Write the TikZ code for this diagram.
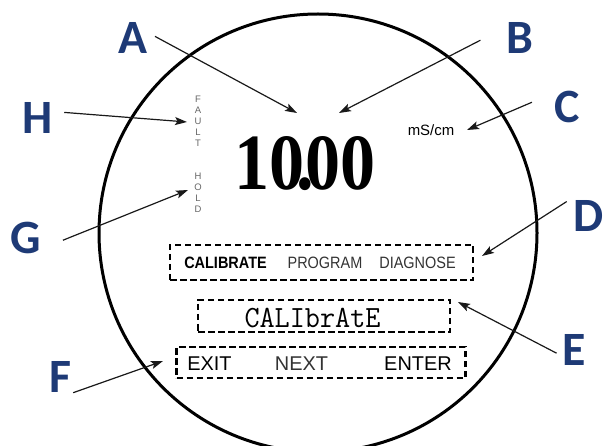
\documentclass[tikz,border=0pt]{standalone}
\usepackage{fontspec}
\usepackage{graphicx}
\usetikzlibrary{arrows.meta}
\newfontfamily\calloutfont{Carlito}
\newfontfamily\panelfont{Liberation Sans}
\newfontfamily\readingfont{Liberation Serif}
\definecolor{calloutblue}{RGB}{30,58,118}
\tikzset{
  callout/.style={font=\calloutfont\bfseries\fontsize{48}{48}\selectfont, text=calloutblue, inner sep=2bp},
  pointer/.style={-{Stealth[length=12bp,width=8bp,inset=2.5bp]}, line width=1.2bp, draw=black!90},
  lcdbox/.style={draw, dash pattern=on 6.5bp off 3.5bp, line width=2.2bp, inner sep=0pt},
  menu/.style={font=\panelfont\fontsize{16.5}{16.5}\selectfont, inner sep=0pt},
  softkey/.style={font=\panelfont\fontsize{20}{20}\selectfont, inner sep=0pt},
  flag/.style={font=\panelfont\fontsize{9.5}{11}\selectfont, text=black!60, align=center, inner sep=1bp}
}
\begin{document}
\begin{tikzpicture}[x=1bp, y=-1bp]
\useasboundingbox (0,0) rectangle (606,446);
\clip (0,0) rectangle (606,446);
\draw[line width=3bp] (318,233) circle[radius=219];
% display contents
\node[inner sep=0pt] (reading) at (305,164) {\readingfont\bfseries\fontsize{80}{80}\selectfont\scalebox{0.88}[1]{10\kern-0.12em.\kern-0.12em00}};
\node[font=\panelfont\fontsize{15}{15}\selectfont, inner sep=0pt] (unit) at (431,130) {mS/cm};
\node[flag] (fault) at (198,121) {F\\A\\U\\L\\T};
\node[flag] (hold) at (198,193) {H\\O\\L\\D};
\node[lcdbox, minimum width=303bp, minimum height=35bp] (menubox) at (321.5,262.5) {};
\node[menu, font=\panelfont\bfseries\fontsize{16.5}{16.5}\selectfont] (calib) at (225.5,263) {\scalebox{0.88}[1]{CALIBRATE}};
\node[menu, text=black!80] (prog) at (325,263) {\scalebox{0.88}[1]{PROGRAM}};
\node[menu, text=black!80] (diag) at (417.5,263) {\scalebox{0.88}[1]{DIAGNOSE}};
\node[lcdbox, minimum width=252bp, minimum height=32bp] (modebox) at (324,316) {};
\node[font=\ttfamily\fontsize{31}{31}\selectfont, inner sep=0pt] (mode) at (312.5,318) {\scalebox{0.95}[1]{CALIbrAtE}};
\node[lcdbox, minimum width=289bp, minimum height=31bp] (keybox) at (321,362.5) {};
\node[softkey] (exit) at (209.5,364) {EXIT};
\node[softkey, text=black!80] (next) at (301.5,364) {NEXT};
\node[softkey] (enter) at (418,364) {ENTER};
% callouts
\node[callout] (lA) at (133,38) {A};
\node[callout] (lB) at (520,38) {B};
\node[callout] (lC) at (567,107) {C};
\node[callout] (lD) at (589,216) {D};
\node[callout] (lE) at (574,350) {E};
\node[callout] (lF) at (60,377) {F};
\node[callout] (lG) at (26,238) {G};
\node[callout] (lH) at (38,118) {H};
\coordinate (tipA) at (297,113);
\coordinate (tipB) at (339,113);
\coordinate (tipC) at (467,130);
\coordinate (tipD) at (482,256);
\coordinate (tipE) at (458,302);
\coordinate (tipF) at (163,361);
\coordinate (tipG) at (188,190);
\coordinate (tipH) at (187,122);
\draw[pointer, shorten <=6bp] (lA.15) -- (tipA);
\draw[pointer, shorten <=27bp] (lB.147) -- (tipB);
\draw[pointer, shorten <=22bp] (lC.138) -- (tipC);
\draw[pointer, shorten <=6bp] (lD.north west) -- (tipD);
\draw[pointer, shorten <=4bp] (lE.-160) -- (tipE);
\draw[pointer] (lF.-50) -- (tipF);
\draw[pointer, shorten <=21bp] (lG.-30) -- (tipG);
\draw[pointer, shorten <=9bp] (lH.20) -- (tipH);
\end{tikzpicture}
\end{document}
